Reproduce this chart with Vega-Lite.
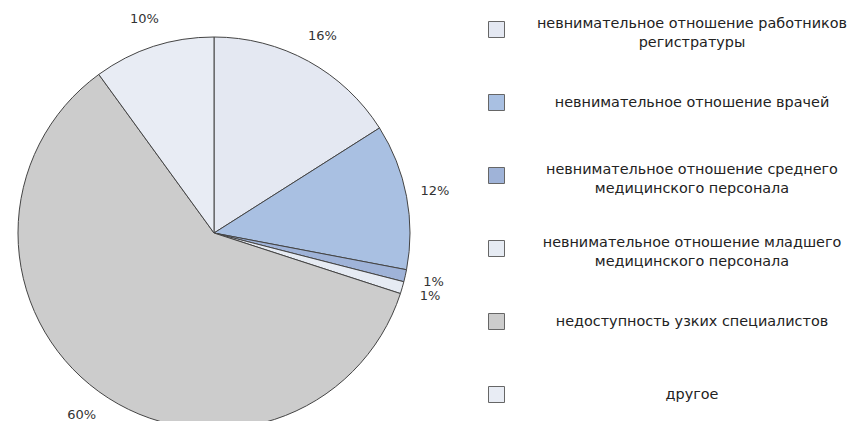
{
  "$schema": "https://vega.github.io/schema/vega-lite/v6.json",
  "width": 428,
  "height": 466,
  "padding": 0,
  "background": "white",
  "config": {"view": {"stroke": null}},
  "data": {
    "values": [
      {"k": 1, "category": "невнимательное отношение работников регистратуры", "share": 0.16},
      {"k": 2, "category": "невнимательное отношение врачей", "share": 0.12},
      {"k": 3, "category": "невнимательное отношение среднего медицинского персонала", "share": 0.01},
      {"k": 4, "category": "невнимательное отношение младшего медицинского персонала", "share": 0.01},
      {"k": 5, "category": "недоступность узких специалистов", "share": 0.60},
      {"k": 6, "category": "другое", "share": 0.10}
    ]
  },
  "encoding": {
    "theta": {"field": "share", "type": "quantitative", "stack": true},
    "order": {"field": "k", "type": "quantitative"},
    "color": {
      "field": "category",
      "type": "nominal",
      "sort": null,
      "scale": {
        "domain": [
          "невнимательное отношение работников регистратуры",
          "невнимательное отношение врачей",
          "невнимательное отношение среднего медицинского персонала",
          "невнимательное отношение младшего медицинского персонала",
          "недоступность узких специалистов",
          "другое"
        ],
        "range": ["#e4e8f2", "#a9c0e2", "#9fb3d8", "#e6ebf3", "#cccccc", "#e8ecf4"]
      },
      "legend": {
        "title": null,
        "orient": "none",
        "legendX": 488,
        "legendY": 21,
        "symbolType": "square",
        "symbolSize": 256,
        "symbolStrokeColor": "#666666",
        "symbolStrokeWidth": 1,
        "symbolOpacity": 1,
        "labelAlign": "center",
        "labelOffset": 187,
        "labelLimit": 500,
        "labelFont": "DejaVu Sans",
        "labelFontSize": 14.4,
        "labelColor": "#222222",
        "gridAlign": "all",
        "rowPadding": 38,
        "labelExpr": "datum.label == 'невнимательное отношение работников регистратуры' ? ['невнимательное отношение работников', 'регистратуры'] : datum.label == 'невнимательное отношение среднего медицинского персонала' ? ['невнимательное отношение среднего', 'медицинского персонала'] : datum.label == 'невнимательное отношение младшего медицинского персонала' ? ['невнимательное отношение младшего', 'медицинского персонала'] : datum.label",
        "encode": {"labels": {"update": {"lineHeight": {"value": 19.5}, "dy": {"signal": "length(datum.value) > 40 ? -6 : 0"}}}}
      }
    }
  },
  "layer": [
    {
      "mark": {"type": "arc", "outerRadius": 196, "stroke": "#444444", "strokeWidth": 1}
    },
    {
      "mark": {"type": "text", "radius": 225, "font": "DejaVu Sans", "fontSize": 13, "fill": "#333333"},
      "encoding": {
        "text": {"field": "share", "type": "quantitative", "format": ".0%"},
        "color": {"value": "#333333"}
      }
    }
  ]
}
